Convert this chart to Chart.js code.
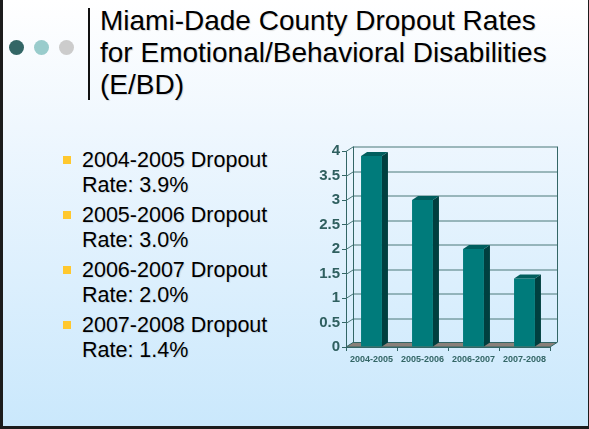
<!doctype html>
<html lang="en">
<head>
<meta charset="utf-8">
<title>Miami-Dade County Dropout Rates for E/BD</title>
<script src="https://cdn.jsdelivr.net/npm/chart.js@4.4.1/dist/chart.umd.min.js"></script>
<style>
    body { margin: 0; font-family: "Liberation Sans", Arial, sans-serif; }
    #slide {
        position: absolute; left: 0; top: 0; width: 589px; height: 429px;
        box-sizing: border-box; overflow: hidden;
        border-left: 3px solid #1c1c1c; border-right: 1px solid #1c1c1c; border-bottom: 3px solid #1c1c1c;
        background: linear-gradient(to bottom, #ffffff 0%, #eff7fe 30%, #cae8fc 100%);
    }
    .dot { position: absolute; top: 40px; width: 15px; height: 15px; border-radius: 50%; }
    #rule { position: absolute; left: 85px; top: 8px; width: 2px; height: 92px; background: #111; }
    #title {
        position: absolute; left: 97px; top: 5px; font-size: 28px; line-height: 32px; color: #000;
        text-shadow: 1px 1px 1px rgba(0,0,0,0.15); white-space: nowrap;
    }
    #bullets { position: absolute; left: 79px; top: 148px; margin: 0; padding: 0; list-style: none; }
    #bullets li {
        position: relative; font-size: 21.5px; line-height: 25px; margin-bottom: 5px; color: #000;
        text-shadow: 1px 1px 1px rgba(0,0,0,0.12); white-space: nowrap;
    }
    #bullets li::before {
        content: ""; position: absolute; left: -19px; top: 8px; width: 8px; height: 8px; background: #ffc82e;
    }
    #chart { position: absolute; left: 297px; top: 130px; }
</style>
</head>
<body>
<div id="slide">
    <div class="dot" style="left:6px;background:#336666"></div>
    <div class="dot" style="left:31px;background:#99cccc"></div>
    <div class="dot" style="left:56px;background:#cccccc"></div>
    <div id="rule"></div>
    <div id="title">Miami-Dade County Dropout Rates<br>for Emotional/Behavioral Disabilities<br>(E/BD)</div>
    <ul id="bullets"></ul>
    <canvas id="chart" width="280" height="250"></canvas>
</div>
<script>
    // data
    var schoolYears = ['2004-2005', '2005-2006', '2006-2007', '2007-2008'];
    var dropoutRates = [3.9, 3.0, 2.0, 1.4];
    var yMin = 0, yMax = 4, yStep = 0.5;

    var list = document.getElementById('bullets');
    schoolYears.forEach(function (yr, i) {
        var li = document.createElement('li');
        li.innerHTML = yr + ' Dropout<br>Rate: ' + dropoutRates[i].toFixed(1) + '%';
        list.appendChild(li);
    });

    var DX = 7, DY = -4.5;   // depth of the back wall
    var BX = 6, BY = -4;     // depth of each bar
    var axisColor = '#336666';
    var fontFamily = "'Liberation Sans', Arial, sans-serif";

    // back wall, gridlines and floor
    var wall3d = {
        id: 'wall3d',
        beforeDatasetsDraw: function (chart) {
            var ctx = chart.ctx, a = chart.chartArea, y = chart.scales.y;
            ctx.save();
            ctx.lineWidth = 1;
            ctx.strokeStyle = '#4a7878';
            for (var v = yMin + yStep; v <= yMax; v += yStep) {
                var py = Math.round(y.getPixelForValue(v)) + 0.5;
                ctx.beginPath();
                ctx.moveTo(a.left, py);
                ctx.lineTo(a.left + DX, py + DY);
                ctx.lineTo(a.right + DX, py + DY);
                ctx.stroke();
            }
            ctx.strokeStyle = axisColor;
            ctx.beginPath();
            ctx.moveTo(a.left + DX + 0.5, a.top + DY);
            ctx.lineTo(a.left + DX + 0.5, a.bottom + DY);
            ctx.moveTo(a.right + DX + 0.5, a.top + DY);
            ctx.lineTo(a.right + DX + 0.5, a.bottom + DY);
            ctx.stroke();
            // floor
            var b = y.getPixelForValue(0);
            ctx.fillStyle = '#8a8079';
            ctx.beginPath();
            ctx.moveTo(a.left, b);
            ctx.lineTo(a.right, b);
            ctx.lineTo(a.right + DX, b + DY);
            ctx.lineTo(a.left + DX, b + DY);
            ctx.closePath();
            ctx.fill();
            ctx.stroke();
            ctx.restore();
        },
        afterDatasetsDraw: function (chart) {
            var ctx = chart.ctx;
            ctx.save();
            chart.getDatasetMeta(0).data.forEach(function (bar) {
                var p = bar.getProps(['x', 'y', 'base', 'width'], true);
                var l = p.x - p.width / 2, r = p.x + p.width / 2;
                ctx.fillStyle = '#003f3f';
                ctx.beginPath();
                ctx.moveTo(r, p.y);
                ctx.lineTo(r + BX, p.y + BY);
                ctx.lineTo(r + BX, p.base + BY);
                ctx.lineTo(r, p.base);
                ctx.closePath();
                ctx.fill();
                ctx.fillStyle = '#005e5e';
                ctx.beginPath();
                ctx.moveTo(l, p.y);
                ctx.lineTo(l + BX, p.y + BY);
                ctx.lineTo(r + BX, p.y + BY);
                ctx.lineTo(r, p.y);
                ctx.closePath();
                ctx.fill();
            });
            ctx.restore();
        }
    };

    new Chart(document.getElementById('chart'), {
        type: 'bar',
        data: {
            labels: schoolYears,
            datasets: [{
                data: dropoutRates,
                backgroundColor: '#007b7b',
                borderWidth: 0,
                barPercentage: 0.41,
                categoryPercentage: 1
            }]
        },
        options: {
            responsive: false,
            animation: false,
            layout: { padding: { top: 21, right: 30, left: 0, bottom: 0 } },
            plugins: { legend: { display: false }, tooltip: { enabled: false } },
            scales: {
                y: {
                    min: yMin, max: yMax,
                    afterFit: function (s) { s.width = 46; },
                    ticks: {
                        stepSize: yStep, padding: 2, color: '#2f5f5f',
                        font: { family: fontFamily, size: 15, weight: 'bold' },
                        callback: function (v) { return String(v); }
                    },
                    grid: { drawOnChartArea: false, tickLength: 4, color: axisColor },
                    border: { display: true, color: axisColor }
                },
                x: {
                    afterFit: function (s) { s.height = 33; },
                    ticks: {
                        padding: 3, color: '#336666',
                        font: { family: fontFamily, size: 9, weight: 'bold' }
                    },
                    grid: { drawOnChartArea: false, tickLength: 4, color: axisColor, offset: true },
                    border: { display: true, color: axisColor }
                }
            }
        },
        plugins: [wall3d]
    });
</script>
</body>
</html>
